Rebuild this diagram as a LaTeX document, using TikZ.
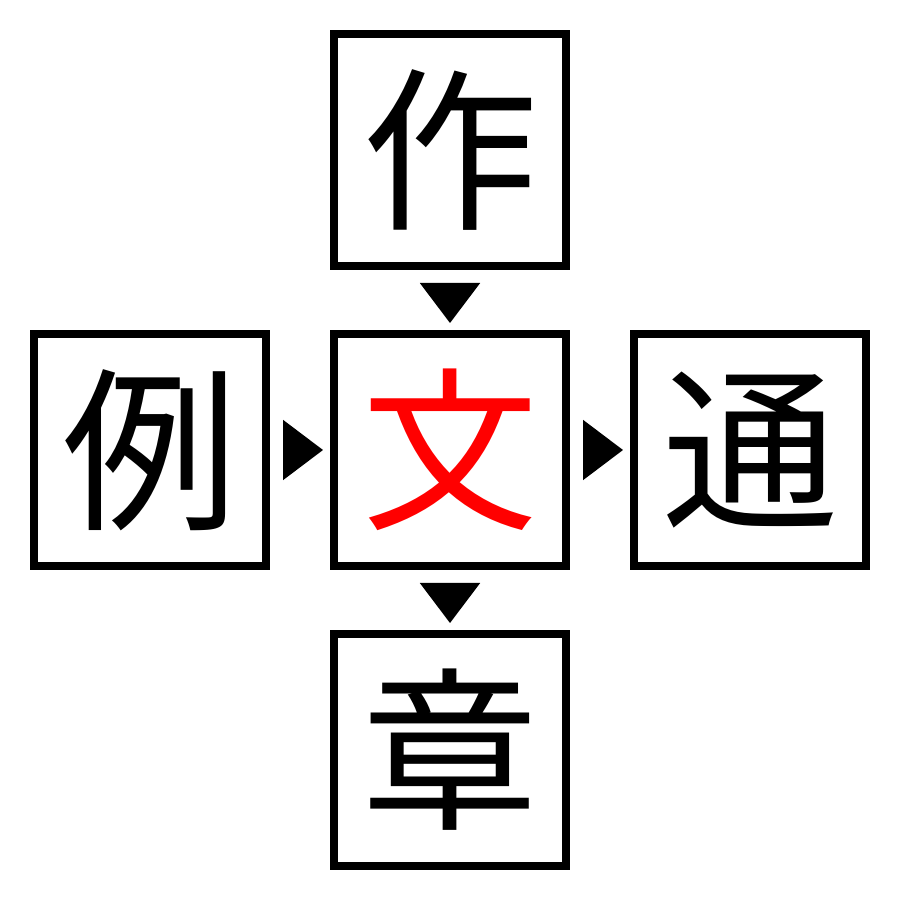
\documentclass[tikz,border=0pt]{standalone}
\usepackage{fontspec}
\newfontfamily\cjk{Noto Sans CJK JP}
\usetikzlibrary{arrows.meta, positioning}

\begin{document}
\begin{tikzpicture}[
    % Stili per le caselle
    charbox/.style={rectangle, draw=black, line width=0.08cm, minimum size=2.32cm, inner sep=0pt, font=\cjk\fontsize{50}{50}\selectfont},
    % Stili per le frecce
    flow/.style={-{Triangle[length=0.4cm, width=0.6cm]}, line width=0.5pt, shorten <=0.22cm, shorten >=0.07cm}
]
\useasboundingbox (0,0) rectangle (9,9);

% === CASELLE ===
\node[charbox] (zuo) at (4.5,7.5) {作};
\node[charbox] (li) at (1.5,4.5) {例};
\node[charbox, text=red] (wen) at (4.5,4.5) {文};
\node[charbox] (tong) at (7.5,4.5) {通};
\node[charbox] (zhang) at (4.5,1.5) {章};

% === FRECCE ===
\draw[flow] (zuo) -- (wen);
\draw[flow] (li) -- (wen);
\draw[flow] (wen) -- (tong);
\draw[flow] (wen) -- (zhang);

\end{tikzpicture}
\end{document}
